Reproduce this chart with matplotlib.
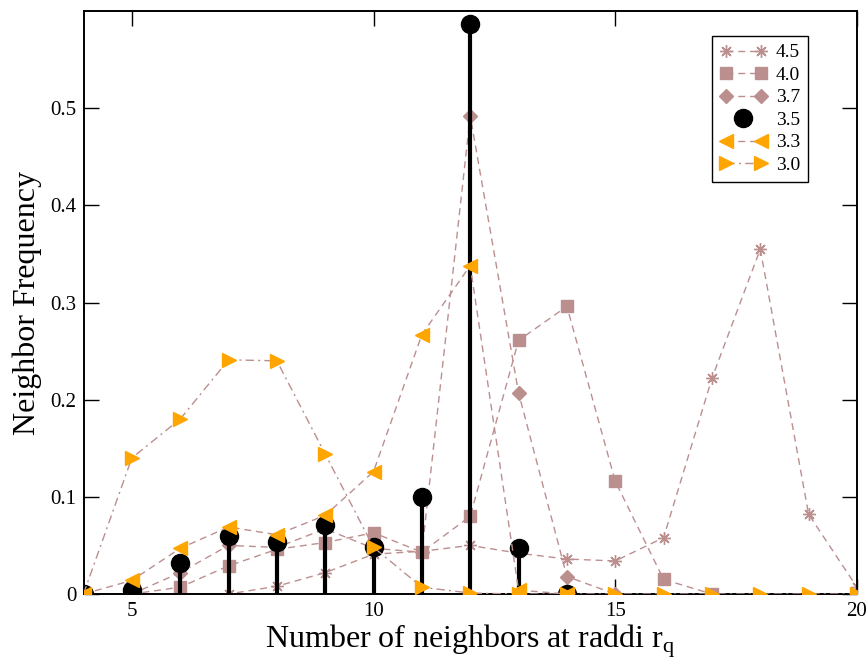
import matplotlib
matplotlib.use("Agg")
import matplotlib.pyplot as plt
from matplotlib.legend_handler import HandlerLine2D
from matplotlib.ticker import FuncFormatter

plt.rcParams["font.family"] = ["Liberation Serif", "DejaVu Serif"]
plt.rcParams["mathtext.fontset"] = "custom"
plt.rcParams["mathtext.rm"] = "Liberation Serif"

# neighbor counts
x_45 = [4, 5, 6, 7, 8, 9, 10, 11, 12, 13, 14, 15, 16, 17, 18, 19, 20]
y_45 = [0, 0, 0, 0, 0.008, 0.022, 0.041, 0.044, 0.050, 0.042, 0.036, 0.034,
        0.058, 0.222, 0.355, 0.082, 0.007]

x_40 = [4, 5, 6, 7, 8, 9, 10, 11, 12, 13, 14, 15, 16, 17]
y_40 = [0, 0, 0.007, 0.029, 0.046, 0.053, 0.063, 0.043, 0.080, 0.261, 0.296,
        0.116, 0.015, 0]

x_37 = [4, 5, 6, 7, 8, 9, 10, 11, 12, 13, 14, 15]
y_37 = [0, 0, 0.022, 0.050, 0.048, 0.067, 0.047, 0.043, 0.492, 0.207, 0.018, 0]

x_35 = [4, 5, 6, 7, 8, 9, 10, 11, 12, 13, 14]
y_35 = [0, 0.004, 0.032, 0.060, 0.054, 0.071, 0.048, 0.100, 0.587, 0.047, 0]

x_33 = [4, 5, 6, 7, 8, 9, 10, 11, 12, 13, 14]
y_33 = [0, 0.014, 0.047, 0.069, 0.061, 0.081, 0.126, 0.267, 0.338, 0.004, 0]

x_30 = [4, 5, 6, 7, 8, 9, 10, 11, 12, 13, 14, 15, 16, 17, 18, 19, 20]
y_30 = [0, 0.140, 0.180, 0.241, 0.240, 0.144, 0.048, 0.007, 0.001, 0, 0, 0,
        0, 0, 0, 0, 0]

line_c = "#bc8f8f"
orange = "#ffa500"

fig = plt.figure(figsize=(8.68, 6.62), dpi=100)
ax = fig.add_axes([0.0962, 0.1027, 0.8911, 0.8807])

dash = (0, (5, 3.5))
h45, = ax.plot(x_45, y_45, color=line_c, lw=1, linestyle=dash,
               marker=(8, 2, 0), ms=9, mec=line_c, mew=1, label="4.5")
h40, = ax.plot(x_40, y_40, color=line_c, lw=1, linestyle=dash,
               marker="s", ms=8, mfc=line_c, mec=line_c, label="4.0")
h37, = ax.plot(x_37, y_37, color=line_c, lw=1, linestyle=dash,
               marker="D", ms=7, mfc=line_c, mec=line_c, label="3.7")
ax.vlines(x_35, 0, y_35, color="black", lw=3, zorder=3)
h35, = ax.plot(x_35, y_35, linestyle="none", marker="o", ms=13,
               color="black", zorder=3, label="3.5")
h33, = ax.plot(x_33, y_33, color=line_c, lw=1, linestyle=dash,
               marker="<", ms=10.5, mfc=orange, mec=orange, zorder=4,
               label="3.3")
h30, = ax.plot(x_30, y_30, color=line_c, lw=1,
               linestyle=(0, (6, 3, 1.5, 3)),
               marker=">", ms=10.5, mfc=orange, mec=orange, zorder=4,
               label="3.0")

ax.set_xlim(4, 20)
ax.set_ylim(0, 0.6)
ax.set_xticks([5, 10, 15, 20])
ax.set_yticks([0, 0.1, 0.2, 0.3, 0.4, 0.5])
ax.yaxis.set_major_formatter(FuncFormatter(lambda v, p: "%g" % v))
ax.tick_params(direction="in", length=10.5, width=1, top=True, right=True,
               labelsize=15)
ax.tick_params(axis="x", pad=6)
ax.tick_params(axis="y", pad=5)
for s in ax.spines.values():
    s.set_linewidth(1.4)

ax.set_xlabel(r"Number of neighbors at raddi r$_\mathregular{q}$",
              fontsize=23, labelpad=1)
ax.set_ylabel("Neighbor Frequency", fontsize=23, labelpad=6)

leg = ax.legend(handles=[h45, h40, h37, h35, h33, h30], loc="upper left",
                bbox_to_anchor=(0.8125, 0.957), borderaxespad=0,
                fontsize=14, numpoints=2, handlelength=2.4,
                handletextpad=0.5, labelspacing=0.25, borderpad=0.4,
                fancybox=False, framealpha=1, edgecolor="black",
                handler_map={h35: HandlerLine2D(numpoints=1)})
leg.get_frame().set_linewidth(1)

fig.savefig("out.png", dpi=100)
